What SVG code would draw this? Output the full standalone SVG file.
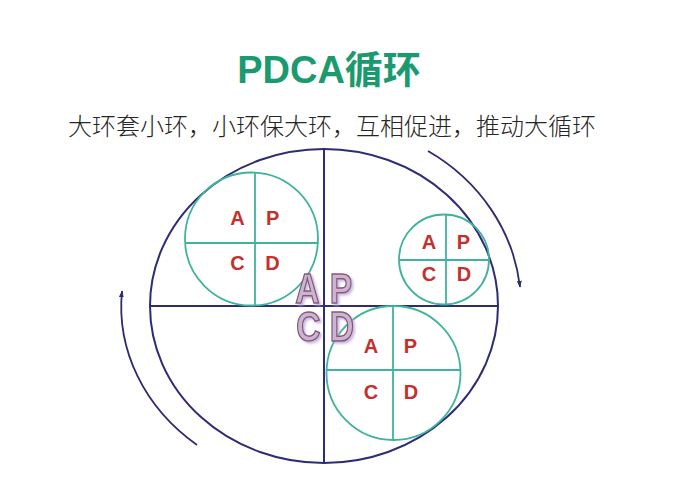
<svg xmlns="http://www.w3.org/2000/svg" width="695" height="500" viewBox="0 0 695 500">
  <defs>
    <marker id="ah" viewBox="0 0 10 10" refX="9" refY="5" markerWidth="7" markerHeight="7" markerUnits="userSpaceOnUse" orient="auto">
      <path d="M0,1.5 L10,5 L0,8.5 Z" fill="#2e2c6e"/>
    </marker>
    <filter id="shadow" x="-20%" y="-20%" width="150%" height="150%">
      <feDropShadow dx="2" dy="2" stdDeviation="0.8" flood-color="#b8a6d6" flood-opacity="0.8"/>
    </filter>
  </defs>
  <style>
    .navy { fill: none; stroke: #2e2c74; stroke-width: 2; }
    .green { fill: none; stroke: #3fb39b; stroke-width: 1.8; }
    .lt { font-family: "Liberation Sans", Arial, sans-serif; font-weight: bold; font-size: 20px; fill: #c4302b; text-anchor: middle; }
    .big { font-family: "Liberation Sans", Arial, sans-serif; font-weight: bold; font-size: 42px; text-anchor: middle; fill: #c8b2cf; fill-opacity: 0.88; stroke: #8a5677; stroke-width: 1.5; }
    .arc { fill: none; stroke: #2e2c6e; stroke-width: 1.8; }
  </style>
  <rect width="695" height="500" fill="#ffffff"/>

  <g id="title">
    <text x="329" y="83" text-anchor="middle" font-family="'Liberation Sans', 'Noto Sans CJK SC', sans-serif" font-weight="bold" font-size="38" fill="#1b9a6f">PDCA循环</text>
  </g>
  <g id="subtitle">
    <text x="68" y="135" font-family="'Noto Sans CJK SC', sans-serif" font-weight="300" font-size="24" fill="#262626">大环套小环，小环保大环，互相促进，推动大循环</text>
  </g>

  <g id="big-cycle">
    <ellipse class="navy" cx="324" cy="306" rx="174" ry="157"/>
    <line class="navy" x1="324" y1="149" x2="324" y2="463"/>
    <line class="navy" x1="150" y1="306" x2="498" y2="306"/>
  </g>

  <g id="cycle-top-left">
    <circle class="green" cx="251.5" cy="239" r="66.5"/>
    <line class="green" x1="255" y1="172.7" x2="255" y2="305.4"/>
    <line class="green" x1="185.3" y1="243" x2="317.8" y2="243"/>
    <text class="lt" x="237.5" y="225">A</text>
    <text class="lt" x="272.6" y="225">P</text>
    <text class="lt" x="237.5" y="270">C</text>
    <text class="lt" x="272.6" y="270">D</text>
  </g>

  <g id="cycle-right">
    <circle class="green" cx="444" cy="259.5" r="45"/>
    <line class="green" x1="446" y1="214.5" x2="446" y2="304.5"/>
    <line class="green" x1="399" y1="260" x2="489" y2="260"/>
    <text class="lt" x="429" y="249">A</text>
    <text class="lt" x="463.5" y="249">P</text>
    <text class="lt" x="429" y="281">C</text>
    <text class="lt" x="464" y="281">D</text>
  </g>

  <g id="cycle-bottom">
    <circle class="green" cx="393.5" cy="373" r="67"/>
    <line class="green" x1="393" y1="306" x2="393" y2="440"/>
    <line class="green" x1="326.5" y1="370" x2="460.5" y2="370"/>
    <text class="lt" x="371" y="353">A</text>
    <text class="lt" x="410.5" y="353">P</text>
    <text class="lt" x="371" y="399">C</text>
    <text class="lt" x="411" y="399">D</text>
  </g>

  <g id="center-apcd" class="big" filter="url(#shadow)">
    <text transform="translate(307.5,303) scale(0.8,1)">A</text>
    <text transform="translate(341,303) scale(0.8,1)">P</text>
    <text transform="translate(308.5,341) scale(0.8,1)">C</text>
    <text transform="translate(342,341) scale(0.8,1)">D</text>
  </g>

  <g id="connectors">
    <path class="arc" d="M428,151 A197,183 0 0 1 520,287" marker-end="url(#ah)"/>
    <path class="arc" d="M197,445 A203,178 0 0 1 122,291" marker-end="url(#ah)"/>
  </g>
</svg>
